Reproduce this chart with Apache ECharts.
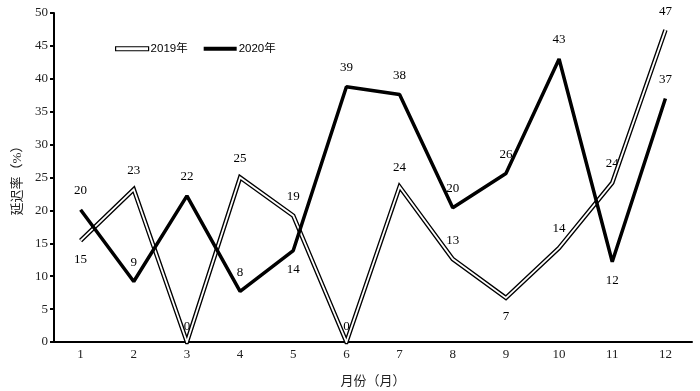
<!DOCTYPE html>
<html><head><meta charset="utf-8">
<script src="https://cdn.jsdelivr.net/npm/echarts@6/dist/echarts.min.js"></script>
<style>html,body{margin:0;padding:0;background:#fff}#c{width:700px;height:391px}</style>
</head><body><div id="c"></div>
<script>
const months = ['1','2','3','4','5','6','7','8','9','10','11','12'];
const yTicks = [0,5,10,15,20,25,30,35,40,45,50];
const v2019 = [15.4, 23.2, 0, 25, 19.2, 0, 23.6, 12.6, 6.7, 14.3, 24.2, 47.4];
const v2020 = [20.1, 9.2, 22.2, 7.7, 13.9, 38.8, 37.6, 20.4, 25.6, 43, 12.2, 37];
const pos2019 = ['bottom','top','top','top','top','top','top','top','bottom','top','top','top'];
const pos2020 = ['top','top','top','top','bottom','top','top','top','top','top','bottom','top'];

const serif = 'Liberation Serif, Noto Sans CJK SC, serif';
const sans = 'Liberation Sans, Noto Sans CJK SC, sans-serif';
function items(vals, pos){
  return vals.map((v,i)=>({value:v, label:{position:pos[i], distance: v===0 ? 8 : 12}}));
}
const chart = echarts.init(document.getElementById('c'));
chart.setOption({
  animation:false,
  grid:{left:54,right:8,top:13,bottom:49,outerBoundsMode:'none',containLabel:false},
  legend:{
    left:110, top:38, itemGap:16, itemWidth:33, itemHeight:4,
    textStyle:{fontFamily:sans,fontSize:11.5,color:'#000',padding:[0,0,0,-3]},
    data:[
      {name:'2019年', icon:'rect', itemStyle:{color:'#fff',borderColor:'#000',borderWidth:1.2}},
      {name:'2020年', icon:'rect', itemStyle:{color:'#000'}}
    ]
  },
  xAxis:{
    type:'category', data:months, boundaryGap:true,
    name:'月份（月）', nameLocation:'middle', nameGap:33,
    nameTextStyle:{fontFamily:serif,fontSize:13,color:'#222'},
    axisLine:{lineStyle:{color:'#000',width:2}},
    axisTick:{inside:true,length:5,lineStyle:{color:'#000',width:2}},
    axisLabel:{fontFamily:serif,fontSize:13,color:'#222',margin:6}
  },
  yAxis:{
    type:'value', min:yTicks[0], max:yTicks[yTicks.length-1], interval:5,
    name:'延迟率（%）', nameLocation:'middle', nameGap:28, nameRotate:90,
    nameTextStyle:{fontFamily:serif,fontSize:13,color:'#222'},
    axisLine:{show:true,lineStyle:{color:'#000',width:2}},
    axisTick:{show:true,length:4,lineStyle:{color:'#000',width:2}},
    axisLabel:{fontFamily:serif,fontSize:13,color:'#222',margin:6},
    splitLine:{show:false}
  },
  series:[
    {name:'2019年', type:'line', data:items(v2019,pos2019), symbol:'circle', symbolSize:1, showSymbol:true, z:2,
     lineStyle:{color:'#000',width:4.5,join:'miter'}, itemStyle:{color:'rgba(0,0,0,0)'},
     label:{show:true,fontFamily:serif,fontSize:13,color:'#000',formatter:p=>Math.round(p.value)},
     labelLayout:{hideOverlap:false}},
    {name:'2019inner', type:'line', data:v2019, symbol:'none', z:3, silent:true,
     lineStyle:{color:'#fff',width:1.8,join:'miter'}},
    {name:'2020年', type:'line', data:items(v2020,pos2020), symbol:'circle', symbolSize:1, showSymbol:true, z:4,
     lineStyle:{color:'#000',width:3.5}, itemStyle:{color:'rgba(0,0,0,0)'},
     label:{show:true,fontFamily:serif,fontSize:13,color:'#000',formatter:p=>Math.round(p.value)},
     labelLayout:{hideOverlap:false}}
  ]
});
</script></body></html>
